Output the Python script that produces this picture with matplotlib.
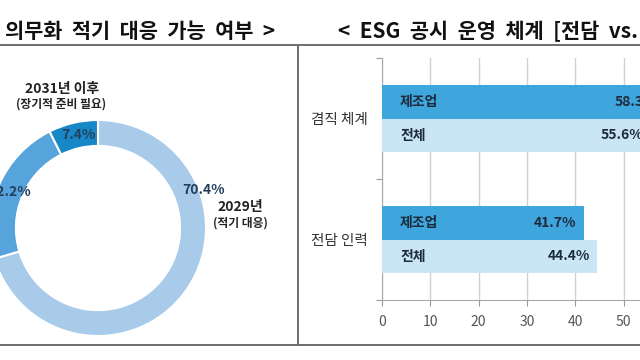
import matplotlib
matplotlib.use("Agg")
import matplotlib.pyplot as plt
from matplotlib.lines import Line2D

plt.rcParams['font.family'] = ['Noto Sans CJK KR', 'DejaVu Sans']

# --- données : donut (gauche) ---
donut_labels = ['2029년\n(적기 대응)', '2030년', '2031년 이후\n(장기적 준비 필요)']
donut_values = [70.4, 22.2, 7.4]
donut_colors = ['#a8cbe9', '#56a4db', '#1787c5']

# --- données : barres (droite) ---
categories = ['전담 인력', '겸직 체계']
groups = ['제조업', '전체']
values_mfg = [41.7, 58.3]
values_all = [44.4, 55.6]
bar_colors = ['#3fa6dd', '#c9e5f6']
xticks = [0, 10, 20, 30, 40, 50]

W, H = 640, 360
fig = plt.figure(figsize=(W / 100, H / 100), dpi=100)


def fx(px):
    return px / W


def fy(py):
    return 1 - py / H


# cadre
line_kw = dict(color='#6e6e6e', lw=1.4)
fig.add_artist(Line2D([0, 1], [fy(45), fy(45)], transform=fig.transFigure, **line_kw))
fig.add_artist(Line2D([0, 1], [fy(345), fy(345)], transform=fig.transFigure, **line_kw))
fig.add_artist(Line2D([fx(298), fx(298)], [fy(46), fy(345)], transform=fig.transFigure, **line_kw))

# titres
fig.text(fx(5), fy(31), '의무화  적기  대응  가능  여부  >', fontsize=15, fontweight='bold',
         ha='left', va='center', color='#111111')
fig.text(fx(338), fy(31), '<  ESG  공시  운영  체계  [전담  vs.', fontsize=15, fontweight='bold',
         ha='left', va='center', color='#111111')

# ---------------------------------------------------------
# donut
# ---------------------------------------------------------
cx, cy, R = 98, 228, 108
ax1 = fig.add_axes([fx(cx - R), fy(cy + R), 2 * R / W, 2 * R / H])
ax1.pie(donut_values, colors=donut_colors, startangle=90, counterclock=False,
        wedgeprops=dict(width=0.24, edgecolor='white', linewidth=1.5))
ax1.set_xlim(-1, 1)
ax1.set_ylim(-1, 1)
ax1.set_aspect('equal')
ax1.axis('off')

pct_color = '#24405f'
pct_pos = [(204, 190), (10, 192), (78, 135)]
for v, (px, py) in zip(donut_values, pct_pos):
    fig.text(fx(px), fy(py), f'{v}%', fontsize=10, color=pct_color,
             ha='center', va='center', fontweight='semibold')

fig.text(fx(240), fy(207), '2029년', fontsize=10, fontweight='bold', ha='center', va='center', color='#222222')
fig.text(fx(240), fy(223), '(적기 대응)', fontsize=8.5, fontweight='semibold', ha='center', va='center', color='#222222')
fig.text(fx(62), fy(89), '2031년 이후', fontsize=10, fontweight='bold', ha='center', va='center', color='#222222')
fig.text(fx(61), fy(104), '(장기적 준비 필요)', fontsize=8.5, fontweight='semibold', ha='center', va='center', color='#222222')

# ---------------------------------------------------------
# barres horizontales
# ---------------------------------------------------------
ax2 = fig.add_axes([fx(382), fy(300), 290 / W, (300 - 58) / H])
ypos = range(len(categories))
h = 0.28
for i, y in enumerate(ypos):
    ax2.barh(y + 0.14, values_mfg[i], height=h, color=bar_colors[0], zorder=3)
    ax2.barh(y - 0.14, values_all[i], height=h, color=bar_colors[1], zorder=3)
    for off, val, name in [(0.14, values_mfg[i], groups[0]), (-0.14, values_all[i], groups[1])]:
        ax2.annotate(name, (0, y + off), xytext=(13, 0), textcoords='offset points',
                     ha='left', va='center', fontsize=10, fontweight='bold', color='#1d2b3c', zorder=4)
        ax2.annotate(f'{val}%', (val, y + off), xytext=(-5, 0), textcoords='offset points',
                     ha='right', va='center', fontsize=10, fontweight='bold', color='#1d2b3c', zorder=4)

ax2.set_xlim(0, 60)
ax2.set_ylim(-0.5, 1.5)
ax2.set_xticks(xticks)
ax2.set_xticklabels([str(t) for t in xticks])
ax2.set_yticks([-0.5, 0.5, 1.5])
ax2.set_yticklabels([])
ax2.set_yticks(list(ypos), minor=True)
ax2.set_yticklabels(categories, minor=True)
ax2.tick_params(axis='y', which='minor', length=0, pad=10, labelsize=10.5, labelcolor='#333333')
ax2.tick_params(axis='y', which='major', length=4, color='#999999')
ax2.tick_params(axis='x', length=4, color='#999999', pad=7, labelsize=10, labelcolor='#555555')
ax2.grid(axis='x', color='#d0d0d0', lw=1, zorder=0)
for s in ['top', 'right']:
    ax2.spines[s].set_visible(False)
for s in ['left', 'bottom']:
    ax2.spines[s].set_color('#aaaaaa')

plt.savefig('out.png', dpi=100)
